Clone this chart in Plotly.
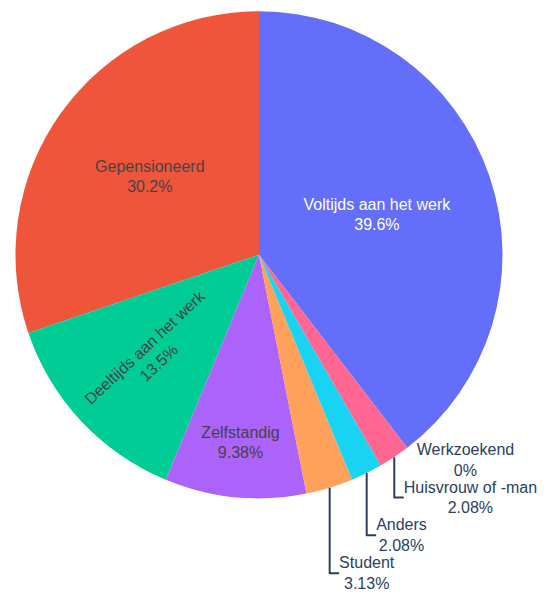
import plotly.graph_objects as go

labels = ["Voltijds aan het werk", "Gepensioneerd", "Deeltijds aan het werk",
          "Zelfstandig", "Student", "Anders", "Huisvrouw of -man", "Werkzoekend"]
values = [38, 29, 13, 9, 3, 2, 2, 0]

fig = go.Figure(go.Pie(labels=labels, values=values, textinfo="label+percent",
                       domain=dict(x=[0.0282, 0.9153], y=[0.1683, 0.9813])))
fig.update_layout(
    width=549, height=599,
    showlegend=False,
    template="plotly",
    font=dict(family="Arial", size=16),
    margin=dict(l=0, r=0, t=0, b=0),
)
fig.write_html("out.html", config={"displayModeBar": False},
               post_script="document.body.style.margin='0';")
